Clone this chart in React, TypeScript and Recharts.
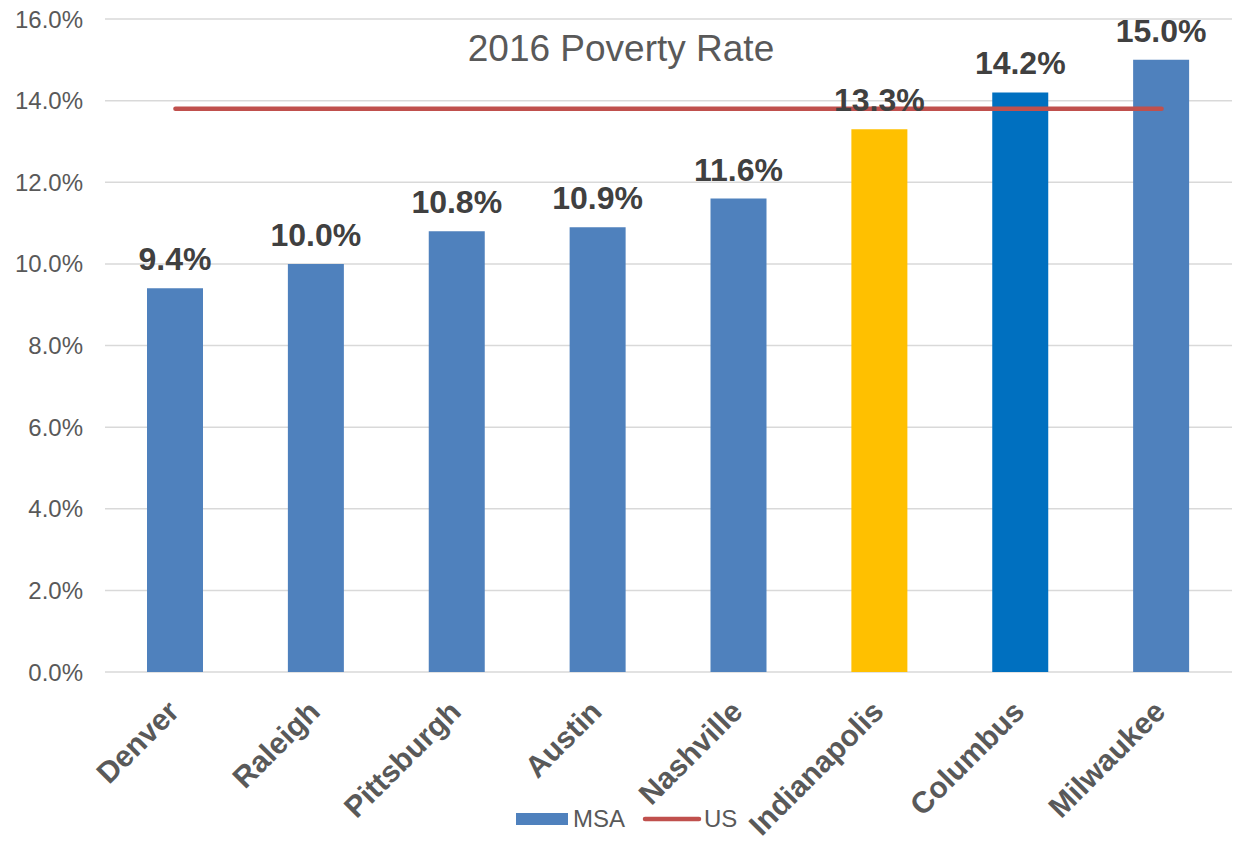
import React from 'react';
import { ComposedChart, Bar, Line, XAxis, YAxis, CartesianGrid, Cell, LabelList, Legend } from 'recharts';

const categories = ['Denver', 'Raleigh', 'Pittsburgh', 'Austin', 'Nashville', 'Indianapolis', 'Columbus', 'Milwaukee'];
const msaValues = [0.094, 0.1, 0.108, 0.109, 0.116, 0.133, 0.142, 0.15];
const usValues = [0.138, 0.138, 0.138, 0.138, 0.138, 0.138, 0.138, 0.138];
const barColors = ['#4f81bd', '#4f81bd', '#4f81bd', '#4f81bd', '#4f81bd', '#ffc000', '#0070c0', '#4f81bd'];
const yTicks = [0, 0.02, 0.04, 0.06, 0.08, 0.1, 0.12, 0.14, 0.16];
const chartTitle = '2016 Poverty Rate';
const seriesNames = ['MSA', 'US'];

const data = categories.map((name, i) => ({ name, msa: msaValues[i], us: usValues[i] }));

const FONT = '"Liberation Sans", Arial, Helvetica, sans-serif';
const pct = (v: number) => (v * 100).toFixed(1) + '%';

const XTick = (props: any) => {
  const { x, y, payload } = props;
  return (
    <g transform={`translate(${x - 2},${y + 26})`}>
      <text
        transform="rotate(-45)"
        textAnchor="end"
        dy="0.35em"
        fontFamily={FONT}
        fontSize={30}
        fontWeight="bold"
        fill="#595959"
      >
        {payload.value}
      </text>
    </g>
  );
};

const LegendContent = () => (
  <svg width={240} height={30} style={{ display: 'block' }}>
    <rect x={6} y={7} width={52} height={12} fill="#4f81bd" />
    <text x={63} y={13} dy="0.35em" fontFamily={FONT} fontSize={24} fill="#595959">
      {seriesNames[0]}
    </text>
    <line x1={135} x2={189} y1={13} y2={13} stroke="#c0504d" strokeWidth={4.5} strokeLinecap="round" />
    <text x={194} y={13} dy="0.35em" fontFamily={FONT} fontSize={24} fill="#595959">
      {seriesNames[1]}
    </text>
  </svg>
);

export default function App() {
  return (
    <div style={{ position: 'absolute', left: 0, top: 0, width: 1235, height: 845, background: '#fff' }}>
      <ComposedChart
        width={1235}
        height={845}
        data={data}
        margin={{ top: 19, right: 3, left: 0, bottom: 0 }}
      >
        <CartesianGrid vertical={false} stroke="#d9d9d9" strokeWidth={1.5} />
        <XAxis
          dataKey="name"
          height={173}
          axisLine={false}
          tickLine={false}
          interval={0}
          tick={<XTick />}
        />
        <YAxis
          width={105}
          domain={[0, 0.16]}
          ticks={yTicks}
          axisLine={false}
          tickLine={false}
          tickMargin={16}
          tickFormatter={pct}
          tick={{ fill: '#595959', fontSize: 24, fontFamily: FONT }}
        />
        <Legend
          layout="horizontal"
          verticalAlign="middle"
          align="center"
          content={<LegendContent />}
          wrapperStyle={{ left: 510, top: 806, width: 240, height: 30 }}
        />
        <Bar dataKey="msa" name={seriesNames[0]} barSize={56} isAnimationActive={false}>
          {data.map((d, i) => (
            <Cell key={d.name} fill={barColors[i]} />
          ))}
          <LabelList
            dataKey="msa"
            position="top"
            offset={18}
            formatter={(v: any) => pct(Number(v))}
            fill="#404040"
            fontSize={32}
            fontWeight="bold"
            fontFamily={FONT}
          />
        </Bar>
        <Line
          dataKey="us"
          name={seriesNames[1]}
          stroke="#c0504d"
          strokeWidth={4.5}
          strokeLinecap="round"
          dot={false}
          activeDot={false}
          isAnimationActive={false}
        />
      </ComposedChart>
      <svg
        width={1235}
        height={80}
        style={{ position: 'absolute', left: 0, top: 0, pointerEvents: 'none' }}
      >
        <text x={621} y={61} textAnchor="middle" fontFamily={FONT} fontSize={37} fill="#595959">
          {chartTitle}
        </text>
      </svg>
    </div>
  );
}
